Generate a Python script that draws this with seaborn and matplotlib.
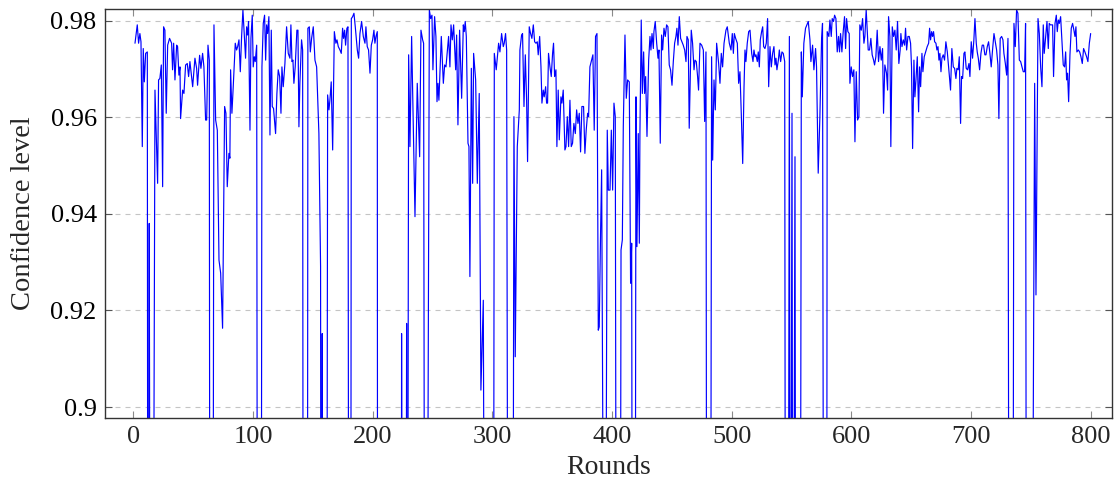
import numpy as np
import pandas as pd
import matplotlib
matplotlib.use("Agg")
import matplotlib.pyplot as plt
import seaborn as sns

# Confidence level per round; 0.80 marks rounds that fall far below the visible range
rounds = [
    1.3, 3.2, 4.3, 5.4, 6.3, 7.4, 8.2, 9.1, 10.2, 11.6, 12.1, 13.2, 14.3, 16.0, 18.0, 20.2, 21.0, 22.1, 23.3, 24.4,
    25.2, 26.3, 27.4, 28.6, 30.2, 31.9, 32.7, 33.6, 34.7, 36.1, 36.9, 38.0, 38.9, 39.4, 41.1, 42.2, 43.6, 45.0, 46.1, 47.2,
    49.5, 51.4, 52.8, 53.6, 55.3, 56.4, 57.8, 58.9, 60.3, 61.2, 62.3, 63.4, 64.0, 66.2, 67.3, 68.7, 70.1, 71.5, 72.9, 74.5,
    76.2, 77.3, 78.4, 79.8, 80.6, 81.2, 82.3, 83.4, 85.1, 86.2, 87.1, 88.2, 89.3, 90.4, 91.5, 92.6, 93.7, 94.6, 95.4, 96.2,
    97.4, 98.2, 99.3, 100.1, 101.0, 101.8, 103.0, 103.8, 106.6, 107.4, 108.5, 109.6, 110.5, 111.3, 112.1, 113.2, 114.1, 115.2, 116.0, 117.1,
    118.8, 119.9, 121.0, 122.2, 123.3, 124.1, 125.2, 126.6, 128.0, 129.4, 130.8, 131.6, 132.5, 133.3, 134.1, 135.2, 136.6, 137.5, 138.3, 139.1,
    140.5, 141.4, 142.0, 145.3, 145.8, 147.0, 147.8, 148.9, 150.3, 151.7, 153.1, 155.0, 156.4, 156.8, 157.8, 158.7, 161.4, 162.3, 163.4, 164.2,
    165.3, 166.5, 167.9, 169.2, 170.1, 171.2, 172.6, 173.7, 174.8, 175.6, 176.5, 177.3, 178.4, 179.3, 180.1, 181.5, 182.1, 183.2, 184.3, 185.4,
    187.1, 188.2, 189.3, 190.7, 192.1, 193.5, 194.3, 195.4, 196.5, 197.7, 198.8, 199.9, 201.0, 201.8, 202.7, 203.8, 204.1, 223.8, 224.1, 225.0,
    227.6, 228.3, 228.9, 230.0, 231.1, 232.5, 235.3, 237.2, 239.2, 240.3, 241.7, 242.5, 243.6, 245.0, 247.3, 248.4, 249.5, 250.3, 251.7, 252.8,
    253.7, 254.5, 255.3, 257.3, 259.0, 260.1, 261.2, 263.4, 264.5, 265.4, 266.5, 267.6, 269.3, 270.1, 271.2, 272.6, 274.3, 275.7, 276.5, 277.3,
    278.2, 279.6, 280.4, 281.2, 282.4, 283.5, 284.3, 286.0, 287.4, 289.0, 290.4, 292.4, 294.0, 300.7, 301.6, 303.2, 305.2, 306.3, 307.7, 309.1,
    309.9, 311.0, 311.9, 313.3, 316.9, 318.0, 319.1, 320.8, 322.5, 323.0, 324.4, 325.2, 326.4, 327.5, 328.6, 329.4, 330.8, 331.9, 333.0, 334.2,
    335.3, 336.4, 337.5, 338.3, 339.5, 340.6, 341.4, 342.5, 343.3, 344.5, 345.3, 346.1, 346.9, 348.1, 349.2, 350.3, 351.1, 352.0, 353.1, 353.9,
    355.0, 355.9, 357.3, 358.1, 359.2, 360.6, 361.5, 362.6, 363.7, 364.8, 365.9, 367.0, 368.1, 369.3, 370.4, 371.5, 372.6, 373.7, 374.8, 376.2,
    377.3, 378.4, 379.6, 380.4, 381.5, 382.9, 384.0, 385.1, 386.2, 387.4, 388.5, 389.3, 390.4, 391.3, 394.0, 396.0, 396.9, 398.3, 399.4, 400.5,
    401.6, 402.7, 403.8, 406.6, 407.5, 408.6, 409.4, 410.8, 411.9, 413.0, 414.4, 415.5, 416.4, 417.2, 419.1, 420.0, 420.8, 421.9, 422.8, 423.3,
    424.4, 425.3, 426.4, 427.2, 428.1, 429.2, 430.6, 431.7, 432.5, 433.4, 434.5, 435.0, 436.1, 437.3, 438.4, 439.2, 440.3, 441.4, 442.3, 443.4,
    444.5, 445.6, 446.7, 447.8, 448.9, 450.1, 451.2, 452.3, 453.4, 454.2, 455.1, 456.2, 457.3, 458.4, 459.5, 460.7, 461.8, 462.6, 463.7, 464.5,
    466.2, 467.3, 468.5, 469.3, 470.4, 471.5, 472.3, 473.5, 474.9, 476.3, 477.4, 478.5, 479.3, 482.1, 483.2, 484.1, 485.2, 486.3, 487.4, 489.1,
    490.2, 491.3, 492.4, 493.6, 495.2, 496.3, 498.0, 499.4, 500.5, 501.4, 502.2, 503.3, 504.7, 505.8, 506.9, 508.0, 509.2, 510.3, 511.1, 511.9,
    513.0, 514.2, 515.3, 516.7, 517.8, 518.6, 519.5, 520.3, 521.4, 522.2, 523.1, 523.9, 525.0, 525.9, 526.7, 527.8, 528.9, 530.0, 530.9, 532.0,
    533.1, 534.2, 535.3, 536.2, 537.0, 537.8, 539.0, 539.8, 540.9, 542.0, 543.1, 544.3, 545.1, 547.0, 548.2, 549.0, 550.4, 551.2, 552.9, 553.7,
    557.1, 558.2, 559.0, 560.3, 561.7, 564.0, 565.4, 566.2, 567.6, 568.7, 570.1, 570.9, 572.3, 573.7, 575.1, 575.9, 577.1, 579.3, 579.8, 581.2,
    582.1, 583.2, 584.0, 585.1, 586.0, 587.1, 588.2, 589.3, 590.1, 591.0, 592.1, 593.2, 594.3, 595.2, 596.0, 597.1, 598.2, 598.8, 599.9, 601.0,
    602.1, 603.0, 604.1, 605.2, 606.3, 607.1, 608.3, 609.4, 610.5, 611.3, 612.4, 614.1, 615.2, 616.3, 617.4, 618.6, 619.4, 620.5, 621.6, 622.7,
    623.9, 625.0, 626.1, 626.9, 628.0, 629.4, 630.3, 631.1, 632.2, 633.0, 634.2, 635.3, 636.4, 637.5, 638.6, 639.7, 640.8, 641.4, 642.3, 643.4,
    644.5, 645.3, 646.2, 647.3, 648.4, 649.5, 650.3, 651.2, 652.3, 653.1, 654.0, 655.1, 656.2, 657.0, 657.9, 659.0, 659.8, 660.9, 662.1, 663.4,
    664.6, 665.4, 666.2, 667.1, 667.9, 668.7, 669.6, 670.7, 671.5, 672.4, 673.2, 674.0, 674.9, 675.7, 676.8, 677.9, 679.0, 680.2, 681.3, 682.1,
    682.9, 684.0, 685.2, 686.3, 687.4, 688.2, 689.3, 690.2, 691.3, 692.1, 693.0, 694.1, 694.9, 696.0, 697.1, 698.3, 699.1, 700.2, 701.3, 702.4,
    703.3, 704.4, 705.2, 706.1, 707.2, 708.3, 709.4, 710.5, 711.6, 712.5, 713.6, 714.7, 715.8, 716.9, 718.0, 719.2, 720.3, 721.4, 722.5, 723.3,
    724.4, 725.6, 726.7, 727.5, 728.7, 729.8, 730.9, 732.0, 734.8, 735.9, 737.0, 738.1, 739.2, 740.4, 741.5, 742.6, 743.7, 744.8, 745.6, 746.5,
    750.4, 753.2, 754.3, 756.0, 757.1, 758.2, 759.3, 760.4, 761.2, 762.4, 763.5, 764.6, 765.4, 766.3, 767.4, 768.2, 769.0, 770.2, 771.3, 772.1,
    773.0, 773.8, 774.9, 776.0, 777.1, 778.2, 779.1, 779.9, 780.7, 781.6, 782.7, 783.8, 784.9, 786.0, 786.9, 787.7, 788.5, 789.7, 790.8, 791.9,
    793.0, 794.1, 795.2, 796.6, 797.7, 798.9, 800.0,
]

confidence = [
    .9753, .9791, .9753, .9773, .9756, .9539, .9742, .9673, .9732, .9735, .80, .9380, .80, .80, .9656, .9463, .9677, .9680, .9708, .9456,
    .9787, .9780, .9608, .9749, .9763, .9753, .9698, .9753, .9677, .9749, .9746, .9687, .9704, .9597, .9656, .9649, .9708, .9711, .9684, .9715,
    .9663, .9722, .9701, .9666, .9728, .9701, .9732, .9704, .9594, .9594, .9749, .9718, .80, .80, .9791, .9594, .9573, .9304, .9277, .9163,
    .9622, .9608, .9456, .9525, .9515, .9698, .9608, .9663, .9753, .9739, .9746, .9760, .9694, .9767, .9822, .9773, .9722, .9787, .9770, .9798,
    .9573, .9763, .9811, .9704, .9725, .9715, .9749, .80, .80, .9704, .9794, .9811, .9718, .9791, .9773, .9808, .9563, .9780, .9622, .9618,
    .9566, .9649, .9698, .9684, .9608, .9704, .9663, .9711, .9787, .9732, .9722, .9791, .9715, .9718, .9670, .9704, .9780, .9780, .9580, .9670,
    .9760, .9739, .80, .80, .9784, .9787, .9735, .9763, .9787, .9718, .9704, .9566, .9291, .80, .9152, .80, .80, .9646, .9615, .9635,
    .9673, .9532, .9777, .9753, .9760, .9746, .9739, .9732, .9784, .9763, .9780, .9749, .9784, .9787, .80, .80, .9804, .9808, .9815, .9787,
    .9739, .9722, .9773, .9798, .9767, .9753, .9787, .9746, .9739, .9691, .9749, .9760, .9780, .9753, .9767, .9777, .80, .80, .9152, .80,
    .80, .9173, .80, .9729, .9539, .9767, .9394, .9670, .9518, .9780, .9760, .9753, .80, .80, .9822, .9804, .9811, .9698, .9808, .9767,
    .9632, .9670, .9635, .9767, .9670, .9708, .9704, .9767, .9704, .9791, .9760, .9791, .9698, .9770, .9584, .9780, .9639, .9791, .9777, .9798,
    .9767, .9546, .9539, .9270, .9701, .9463, .9732, .9677, .9463, .9649, .9035, .9221, .80, .80, .9732, .9698, .9753, .9735, .9773, .9746,
    .9753, .9773, .9739, .80, .80, .9601, .9104, .9539, .9615, .9739, .9770, .9773, .9622, .9729, .9635, .9508, .9787, .9773, .9763, .9791,
    .9756, .9753, .9756, .9729, .9767, .9704, .9629, .9656, .9642, .9663, .9629, .9629, .9732, .9704, .9684, .9732, .9753, .9684, .9698, .9539,
    .9656, .9553, .9642, .9629, .9656, .9532, .9539, .9601, .9539, .9635, .9539, .9546, .9587, .9566, .9615, .9587, .9608, .9528, .9622, .9622,
    .9525, .9573, .9608, .9601, .9704, .9718, .9729, .9573, .9767, .9773, .9159, .9166, .9359, .9491, .80, .9573, .9449, .9449, .9573, .9449,
    .9629, .9601, .80, .80, .9325, .9346, .9580, .9770, .9639, .9677, .9673, .9256, .9339, .80, .80, .9642, .9332, .9566, .9339, .9566,
    .9801, .9649, .9735, .9649, .9684, .9560, .9718, .9767, .9739, .9773, .9742, .9777, .9798, .9753, .9722, .9739, .9546, .9770, .9739, .9784,
    .9767, .9791, .9787, .9708, .9698, .9666, .9715, .9753, .9767, .9784, .9749, .9808, .9763, .9756, .9749, .9739, .9715, .9767, .9760, .9577,
    .9780, .9753, .9698, .9718, .9715, .9684, .9656, .9753, .9749, .9739, .9591, .9735, .80, .80, .9725, .9511, .9677, .9615, .9753, .9711,
    .9670, .9732, .9704, .9753, .9780, .9787, .9753, .9739, .9773, .9732, .9773, .9763, .9753, .9670, .9694, .9608, .9504, .9663, .9739, .9715,
    .9753, .9777, .9780, .9732, .9715, .9739, .9725, .9729, .9715, .9735, .9704, .9760, .9777, .9787, .9746, .9742, .9753, .9804, .9663, .9746,
    .9704, .9732, .9746, .9708, .9722, .9698, .9718, .9739, .9715, .9735, .9732, .9715, .80, .80, .9767, .80, .9608, .80, .9518, .80,
    .80, .9735, .9642, .9753, .9784, .9798, .9760, .9715, .9749, .9698, .9742, .9704, .9484, .9601, .9760, .9794, .80, .80, .9777, .9767,
    .9801, .9767, .9804, .9798, .9811, .9804, .9735, .9767, .9735, .9773, .9735, .9777, .9808, .9742, .9804, .9777, .9773, .9670, .9704, .9684,
    .9698, .9549, .9694, .9594, .9601, .9791, .9780, .9804, .9753, .9767, .9822, .9739, .9739, .9763, .9729, .9718, .9708, .9725, .9780, .9715,
    .9746, .9718, .9742, .9608, .9708, .9691, .9656, .9808, .9767, .9539, .9787, .9767, .9780, .9739, .9798, .9711, .9739, .9773, .9746, .9760,
    .9749, .9784, .9739, .9767, .9767, .9753, .9704, .9535, .9718, .9642, .9677, .9725, .9611, .9704, .9663, .9732, .9694, .9725, .9735, .9746,
    .9753, .9784, .9760, .9777, .9767, .9777, .9756, .9753, .9739, .9746, .9718, .9732, .9694, .9722, .9729, .9718, .9756, .9735, .9704, .9680,
    .9656, .9742, .9704, .9701, .9680, .9701, .9698, .9725, .9587, .9684, .9680, .9732, .9735, .9701, .9698, .9711, .9684, .9756, .9722, .9760,
    .9804, .9753, .9735, .9722, .9698, .9732, .9749, .9749, .9729, .9729, .9746, .9756, .9732, .9704, .9739, .9773, .9756, .9739, .9708, .9597,
    .9763, .9767, .9760, .9732, .9711, .9687, .9763, .80, .80, .9794, .9746, .9822, .9815, .9718, .9715, .9704, .9694, .9694, .9794, .80,
    .80, .9670, .9232, .9804, .9773, .9704, .9663, .9791, .9732, .9767, .9798, .9742, .9794, .9791, .9791, .9791, .9684, .9794, .9811, .9777,
    .9801, .9794, .9808, .9756, .9708, .9704, .9735, .9677, .9691, .9632, .9729, .9784, .9794, .9780, .9767, .9787, .9735, .9739, .9735, .9725,
    .9711, .9742, .9735, .9725, .9715, .9753, .9773,
]

x_ticks = [0, 100, 200, 300, 400, 500, 600, 700, 800]
y_ticks = [0.90, 0.92, 0.94, 0.96, 0.98]
y_tick_labels = ["0.9", "0.92", "0.94", "0.96", "0.98"]

df = pd.DataFrame({"Rounds": rounds, "Confidence level": confidence})

sns.set_style("white")
plt.rcParams["font.family"] = ["Liberation Serif", "DejaVu Serif"]

fig = plt.figure(figsize=(11.19, 4.90), dpi=100)
ax = fig.add_axes([0.0938, 0.1469, 0.8999, 0.8347])

sns.lineplot(data=df, x="Rounds", y="Confidence level", estimator=None, sort=False,
             color="#0000ff", linewidth=0.85, ax=ax)

ax.set_xlim(-23.8, 817.8)
ax.set_ylim(0.89772, 0.98238)

ax.set_xticks(x_ticks)
ax.set_xticklabels([str(t) for t in x_ticks])
ax.set_yticks(y_ticks)
ax.set_yticklabels(y_tick_labels)

ax.yaxis.grid(True, color="#c4c4c4", linestyle=(0, (4.5, 4.5)), linewidth=0.8)
ax.xaxis.grid(False)
ax.set_axisbelow(True)

ax.tick_params(axis="both", which="major", direction="in", length=5, width=0.8,
               color="#8a8a8a", labelsize=19, top=True, right=True,
               bottom=True, left=True, pad=6)
ax.tick_params(axis="y", colors="#555555", labelcolor="black")

for side in ("left", "right", "top", "bottom"):
    ax.spines[side].set_color("#333333")
    ax.spines[side].set_linewidth(1.0)

ax.set_xlabel("Rounds", fontsize=20, labelpad=5)
ax.set_ylabel("Confidence level", fontsize=20.5, labelpad=10)

fig.savefig("out.png", dpi=100)
